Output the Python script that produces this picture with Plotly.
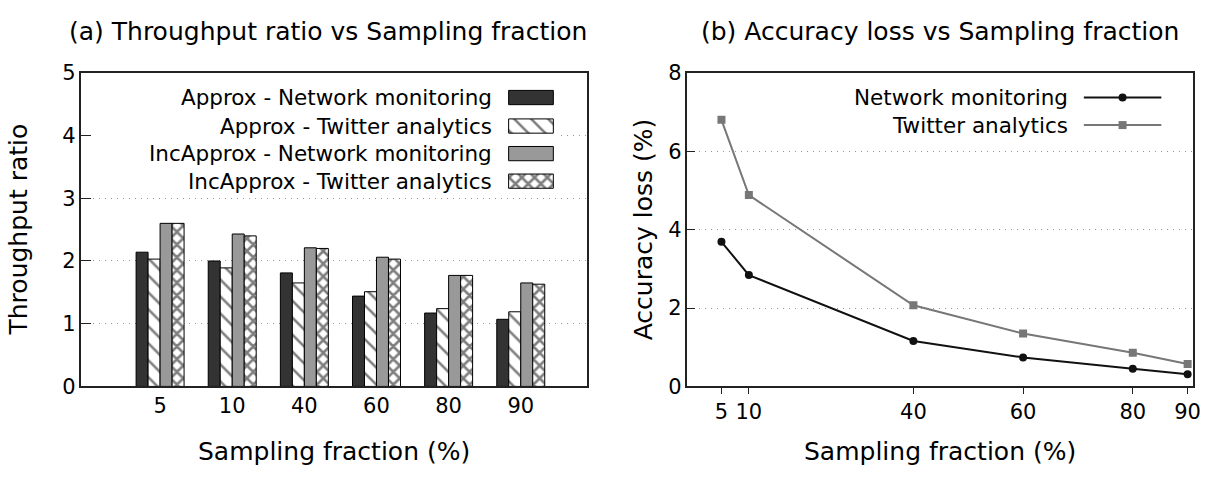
import plotly.graph_objects as go

# Sampling fractions (%) used in both panels
sampling = [5, 10, 40, 60, 80, 90]
sampling_labels = ["5", "10", "40", "60", "80", "90"]

# (a) Throughput ratio
approx_network = [2.14, 2.00, 1.81, 1.44, 1.17, 1.07]
approx_twitter = [2.03, 1.89, 1.65, 1.51, 1.24, 1.19]
incapprox_network = [2.60, 2.43, 2.21, 2.06, 1.77, 1.65]
incapprox_twitter = [2.60, 2.40, 2.20, 2.03, 1.77, 1.63]

# (b) Accuracy loss (%)
loss_network = [3.69, 2.84, 1.16, 0.74, 0.45, 0.31]
loss_twitter = [6.80, 4.88, 2.07, 1.35, 0.86, 0.57]

bar_names = [
    "Approx - Network monitoring",
    "Approx - Twitter analytics",
    "IncApprox - Network monitoring",
    "IncApprox - Twitter analytics",
]
line_names = ["Network monitoring", "Twitter analytics"]

W, H = 1217, 483
FONT = "DejaVu Sans"
BLACK = "#000000"
TICK_SIZE = 21
KEY_SIZE = 21.5
TITLE_SIZE = 25

# plot areas in pixels: (left, right), top, bottom
LEFT_A, RIGHT_A = 82, 591
LEFT_B, RIGHT_B = 692, 1201
TOP, BOTTOM = 64, 394


def px_x(p):
    return p / W


def px_y(p):
    return 1 - p / H


bar_styles = [
    dict(color="#333333", pattern=dict(shape="")),
    dict(color="white", pattern=dict(shape="\\", size=12, solidity=0.22,
                                      fgcolor="black", bgcolor="white")),
    dict(color="#999999", pattern=dict(shape="")),
    dict(color="white", pattern=dict(shape="x", size=9, solidity=0.5,
                                      fgcolor="black", bgcolor="white")),
]

fig = go.Figure()

idx = list(range(len(sampling)))
for name, vals, st in zip(bar_names,
                          [approx_network, approx_twitter, incapprox_network, incapprox_twitter],
                          bar_styles):
    fig.add_trace(go.Bar(
        x=idx, y=vals, name=name, xaxis="x", yaxis="y",
        marker=dict(color=st["color"], pattern=st["pattern"],
                    line=dict(color="black", width=1)),
        showlegend=False,
    ))

fig.add_trace(go.Scatter(
    x=sampling, y=loss_network, name=line_names[0], xaxis="x2", yaxis="y2",
    mode="lines+markers", line=dict(color="#111111", width=2),
    marker=dict(symbol="circle", size=8, color="#111111"), showlegend=False,
))
fig.add_trace(go.Scatter(
    x=sampling, y=loss_twitter, name=line_names[1], xaxis="x2", yaxis="y2",
    mode="lines+markers", line=dict(color="#777777", width=2),
    marker=dict(symbol="square", size=8, color="#777777"), showlegend=False,
))

# ---- key boxes, drawn on a pixel-unit overlay axis pair (x3/y3) ----
annotations = []
key_rows_a = [90, 120, 149, 178]
for name, st, yc in zip(bar_names, bar_styles, key_rows_a):
    fig.add_trace(go.Bar(
        x=[512], y=[15], base=[yc - 7.5], width=[45], offset=0,
        xaxis="x3", yaxis="y3", showlegend=False, hoverinfo="skip",
        marker=dict(color=st["color"], pattern=st["pattern"],
                    line=dict(color="black", width=1)),
    ))
    annotations.append(dict(x=497, y=yc, xref="x3", yref="y3", text=name,
                            xanchor="right", yanchor="middle", showarrow=False,
                            font=dict(size=KEY_SIZE, color=BLACK, family=FONT)))

key_rows_b = [90, 119]
key_styles_b = [("#111111", "circle"), ("#777777", "square")]
for name, (col, sym), yc in zip(line_names, key_styles_b, key_rows_b):
    fig.add_trace(go.Scatter(
        x=[1091, 1169], y=[yc, yc], xaxis="x3", yaxis="y3", mode="lines",
        line=dict(color=col, width=2), showlegend=False, hoverinfo="skip",
    ))
    fig.add_trace(go.Scatter(
        x=[1130], y=[yc], xaxis="x3", yaxis="y3", mode="markers",
        marker=dict(symbol=sym, size=8, color=col), showlegend=False, hoverinfo="skip",
    ))
    annotations.append(dict(x=1077, y=yc, xref="x3", yref="y3", text=name,
                            xanchor="right", yanchor="middle", showarrow=False,
                            font=dict(size=KEY_SIZE, color=BLACK, family=FONT)))

# titles and axis titles
for text, x, y, ang in [
    ("(a) Throughput ratio vs Sampling fraction", (LEFT_A + RIGHT_A) / 2 - 6, 20, 0),
    ("(b) Accuracy loss vs Sampling fraction", (LEFT_B + RIGHT_B) / 2, 20, 0),
    ("Sampling fraction (%)", (LEFT_A + RIGHT_A) / 2, 462, 0),
    ("Sampling fraction (%)", (LEFT_B + RIGHT_B) / 2, 462, 0),
    ("Throughput ratio", 19, (TOP + BOTTOM) / 2, -90),
    ("Accuracy loss (%)", 648, (TOP + BOTTOM) / 2, -90),
]:
    annotations.append(dict(x=x, y=y, xref="x3", yref="y3", text=text,
                            textangle=ang, showarrow=False,
                            xanchor="center", yanchor="middle",
                            font=dict(size=TITLE_SIZE, color=BLACK, family=FONT)))

axis_common = dict(showline=True, linecolor="#222222", linewidth=1.5, mirror=True,
                   tickfont=dict(size=TICK_SIZE, color=BLACK, family=FONT),
                   zeroline=False)
grid_common = dict(showgrid=True, gridcolor="#999999", griddash="1px,5px", gridwidth=1)

fig.update_layout(
    width=W, height=H,
    margin=dict(l=0, r=0, t=0, b=0),
    paper_bgcolor="white", plot_bgcolor="rgba(0,0,0,0)",
    barmode="group", bargap=0.335, bargroupgap=0,
    font=dict(family=FONT, color=BLACK),
    xaxis=dict(domain=[px_x(LEFT_A), px_x(RIGHT_A)], anchor="y",
               range=[-1.09, 5.92], tickvals=idx, ticktext=sampling_labels,
               ticks="", showgrid=False, **axis_common),
    yaxis=dict(domain=[px_y(BOTTOM), px_y(TOP)], anchor="x",
               range=[0, 5], dtick=1, ticks="inside", ticklen=10, tickcolor="#222222",
               **grid_common, **axis_common),
    xaxis2=dict(domain=[px_x(LEFT_B), px_x(RIGHT_B)], anchor="y2",
                range=[-1.2, 91], tickvals=sampling, ticktext=sampling_labels,
                ticks="outside", ticklen=6, tickcolor="#222222", showgrid=False,
                **axis_common),
    yaxis2=dict(domain=[px_y(BOTTOM), px_y(TOP)], anchor="x2",
                range=[0, 8], dtick=2, ticks="inside", ticklen=8, tickcolor="#222222",
                **grid_common, **axis_common),
    xaxis3=dict(domain=[0, 1], anchor="y3", range=[0, W], visible=False, fixedrange=True),
    yaxis3=dict(domain=[0, 1], anchor="x3", range=[H, 0], visible=False, fixedrange=True),
    annotations=annotations,
    shapes=[
        # opaque key background over the grid of panel (a)
        dict(type="rect", xref="x", yref="y", x0=-1.09, x1=5.52, y0=3.07, y1=5,
             fillcolor="white", line=dict(width=0), layer="between"),
    ],
)

fig.write_html("out.html")
